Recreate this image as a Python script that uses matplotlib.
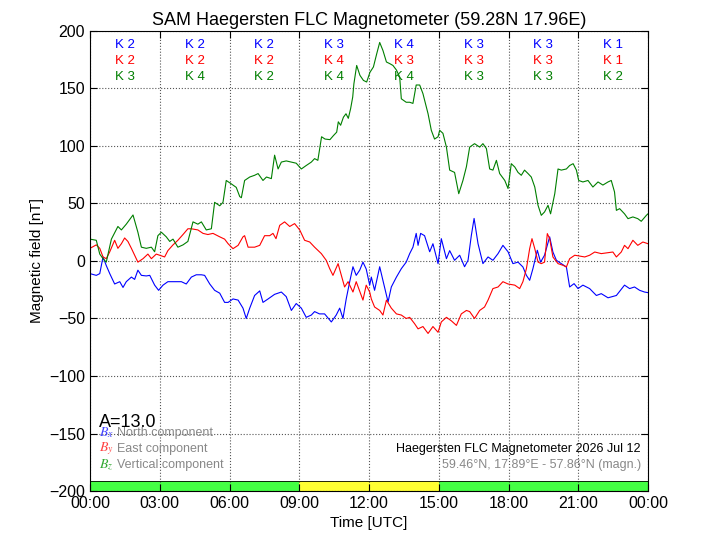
import matplotlib
matplotlib.use("Agg")
import matplotlib.pyplot as plt

plt.rcParams['font.family'] = ['Liberation Sans', 'DejaVu Sans']
plt.rcParams['mathtext.fontset'] = 'stix'

# hours since 00:00 UTC and field values in nT
bx_t = [0.0, 0.27, 0.42, 0.56, 0.7, 0.85, 1.06, 1.28, 1.42, 1.56, 1.78, 1.92,
        2.06, 2.21, 2.42, 2.57, 2.78, 2.95, 3.14, 3.35, 3.64, 3.93, 4.14, 4.36,
        4.57, 4.79, 4.93, 5.15, 5.36, 5.58, 5.79, 5.94, 6.15, 6.37, 6.58, 6.72,
        6.87, 7.08, 7.3, 7.44, 7.66, 7.94, 8.23, 8.44, 8.66, 8.87, 9.09, 9.3,
        9.52, 9.66, 9.87, 10.09, 10.38, 10.59, 10.74, 10.88, 11.02, 11.17, 11.31,
        11.45, 11.6, 11.74, 11.88, 12.03, 12.1, 12.24, 12.46, 12.6, 12.82, 12.96,
        13.18, 13.39, 13.6, 13.75, 13.89, 14.03, 14.11, 14.22, 14.39, 14.61,
        14.75, 14.97, 15.11, 15.33, 15.47, 15.68, 15.9, 16.11, 16.26, 16.4,
        16.52, 16.69, 16.9, 17.12, 17.33, 17.55, 17.76, 17.98, 18.19, 18.41,
        18.62, 18.77, 18.91, 19.05, 19.24, 19.38, 19.55, 19.77, 19.91, 20.06,
        20.27, 20.49, 20.63, 20.82, 20.99, 21.2, 21.49, 21.78, 21.99, 22.28,
        22.64, 22.99, 23.21, 23.42, 23.64, 23.85, 24.0]
bx = [-11, -12.5, -11, 3.5, -4, -11, -20, -18, -23, -18, -14, -16,
      -8, -12.5, -13, -12.5, -21, -25.5, -21, -18, -18, -18, -20, -14,
      -12, -12, -12.5, -20, -25.5, -28, -36, -36, -33, -34, -41, -50,
      -41, -30, -26, -36, -33, -29, -27, -31, -43, -37, -41, -49,
      -47, -44, -46, -46, -53, -47, -41, -50, -33, -18, -5,
      -12.5, -8, -1, -7, -21, -14, -25.5, -5, -17, -35.6, -22.6,
      -14, -6.7, -1, 6.4, 12, 24, 13.6, 24, 22, 8,
      15, -2.3, 19.4, 2, 9, 0.6, 5, -5, 0.6, 22,
      37, 15, -2.3, 3.5, 0.6, 6.4, 13.6, 8, -2.3, -1,
      -5.2, -12.5, -16.8, -6.7, 9.3, -1, 5, 21, 7.8, 0.6,
      -2.3, -5.2, -22.6, -19.7, -24, -21, -24, -30, -28.4, -32,
      -30, -21, -24, -22.6, -25.5, -27, -27.5]

by_t = [0.0, 0.27, 0.42, 0.56, 0.7, 0.85, 1.06, 1.2, 1.35, 1.49, 1.63, 1.78,
        1.92, 2.06, 2.28, 2.49, 2.64, 2.85, 2.99, 3.21, 3.35, 3.57, 3.78, 4.0,
        4.21, 4.36, 4.64, 4.86, 5.07, 5.29, 5.58, 5.79, 5.94, 6.15, 6.37, 6.58,
        6.65, 6.8, 7.08, 7.3, 7.51, 7.73, 7.87, 8.0, 8.16, 8.37, 8.59, 8.8,
        9.02, 9.23, 9.45, 9.66, 9.95, 10.16, 10.31, 10.45, 10.67, 10.81, 10.95,
        11.1, 11.31, 11.45, 11.67, 11.74, 11.88, 12.03, 12.1, 12.24, 12.46,
        12.6, 12.75, 12.96, 13.18, 13.39, 13.6, 13.75, 13.96, 14.11, 14.32,
        14.54, 14.75, 14.97, 15.11, 15.33, 15.54, 15.76, 15.97, 16.19, 16.33,
        16.54, 16.76, 16.97, 17.12, 17.33, 17.55, 17.76, 17.98, 18.27, 18.48,
        18.62, 18.77, 18.91, 19.01, 19.13, 19.27, 19.41, 19.55, 19.67, 19.77,
        19.91, 20.13, 20.35, 20.49, 20.63, 20.85, 21.06, 21.28, 21.49, 21.71,
        21.99, 22.28, 22.49, 22.64, 22.85, 22.99, 23.14, 23.35, 23.56, 23.78,
        24.0]
by = [11, 14, 11, 3.5, 2, 8, 18, 11, 15, 20, 17, 11,
      5, -1, 2, 6, 2, 6, 5, 3.5, 9, 14, 18, 23,
      28, 28, 27, 24, 23, 24, 21, 19, 15, 10.7, 13.6, 21,
      22, 12, 12, 13.6, 22, 22, 24, 19.4, 31, 34, 30, 32.5,
      27, 18, 16.5, 12, 6.4, 0.6, -6.7, -12.5, -2.3, -12.5, -22.6,
      -18, -27, -18, -30, -34, -21, -27, -33, -40, -43,
      -47, -34, -41, -46, -47, -50, -49, -54.5, -59, -57,
      -63, -57, -62, -53, -49, -52, -56, -46, -43, -44,
      -50, -43, -40, -34, -24, -22.6, -18, -20, -21, -24,
      -18, -6.7, 10.7, 19.4, 10.7, -1, -2.3, -1, 23.8, 19.4,
      3.5, -2.3, -3.8, -5.2, 2, 5, 4.3, 3.5, 5, 7.8,
      6.4, 7.2, 7.8, 3.5, 7.8, 13.6, 10.7, 18, 13.6, 16.5,
      15]

bz_t = [0.0, 0.27, 0.42, 0.56, 0.7, 0.92, 1.2, 1.35, 1.56, 1.85, 2.06, 2.21,
        2.42, 2.64, 2.78, 2.92, 3.07, 3.28, 3.43, 3.57, 3.78, 4.0, 4.21, 4.43,
        4.64, 4.79, 5.0, 5.22, 5.36, 5.58, 5.72, 5.86, 6.08, 6.29, 6.44, 6.51,
        6.65, 6.87, 7.08, 7.23, 7.44, 7.59, 7.8, 7.94, 8.09, 8.23, 8.44, 8.66,
        8.87, 9.09, 9.3, 9.52, 9.66, 9.8, 9.89, 9.96, 10.11, 10.32, 10.47,
        10.61, 10.68, 10.78, 10.9, 11.01, 11.11, 11.21, 11.3, 11.35, 11.47,
        11.61, 11.76, 11.9, 12.04, 12.19, 12.33, 12.46, 12.6, 12.75, 12.89,
        13.03, 13.18, 13.32, 13.39, 13.6, 13.75, 13.89, 14.03, 14.18, 14.32,
        14.54, 14.68, 14.82, 14.97, 15.04, 15.18, 15.33, 15.47, 15.68, 15.86,
        16.04, 16.19, 16.33, 16.54, 16.76, 16.9, 17.05, 17.19, 17.33, 17.48,
        17.62, 17.84, 17.98, 18.12, 18.27, 18.41, 18.55, 18.69, 18.84, 18.98,
        19.13, 19.27, 19.41, 19.55, 19.7, 19.81, 19.99, 20.13, 20.27, 20.49,
        20.63, 20.78, 20.92, 21.02, 21.2, 21.42, 21.63, 21.85, 22.06, 22.28,
        22.42, 22.56, 22.64, 22.78, 22.99, 23.14, 23.35, 23.56, 23.71, 23.93,
        24.0]
bz = [19, 18, 6, 2, -1, 19, 30, 27, 32, 40, 25, 12,
      11, 12, 8, 22, 25, 21, 17, 19, 12, 14, 17, 34,
      32, 34, 27, 28, 51, 48, 51, 70, 67, 64, 56, 55,
      70, 73, 74.5, 76, 70, 73, 71.6, 92, 80, 86, 87, 86,
      85, 80, 83, 86, 89, 87.5, 99, 108, 106, 105.5, 109,
      112, 121, 118, 125, 128, 124, 132.5, 142.6, 154, 170,
      161.4, 157, 155.6, 164, 168.7, 180, 190, 183, 173, 171.6,
      170, 166, 160, 141, 138, 138, 137, 153, 153, 145.5,
      128, 113.6, 106, 108, 113.6, 111, 99, 79, 77, 58.5,
      70, 82, 99, 102, 99, 102, 97.7, 80, 79, 87.5,
      76, 70, 63, 84.6, 81.7, 77, 74.5, 79, 76, 73,
      64.3, 48.4, 39.7, 42.6, 48.4, 41, 58.5, 80, 79, 80,
      83, 84.6, 79, 70, 68.7, 70, 64.3, 68.7, 66, 68.7,
      70, 60, 44, 45.5, 41, 36.8, 38.3, 36.8, 34.5, 39.7,
      41]

# 3-hourly K indices per component
k_x = ['K 2', 'K 2', 'K 2', 'K 3', 'K 4', 'K 3', 'K 3', 'K 1']
k_y = ['K 2', 'K 2', 'K 2', 'K 4', 'K 3', 'K 3', 'K 3', 'K 1']
k_z = ['K 3', 'K 4', 'K 2', 'K 4', 'K 4', 'K 3', 'K 3', 'K 2']

# activity band at the bottom
band_edges = [0, 9, 15, 24]
band_colors = ['#44ff44', '#ffff33', '#44ff44']

tick_hours = [0, 3, 6, 9, 12, 15, 18, 21, 24]
tick_labels = ['00:00', '03:00', '06:00', '09:00', '12:00', '15:00',
               '18:00', '21:00', '00:00']

fig = plt.figure(figsize=(7.2, 5.4), dpi=100)
ax = fig.add_axes([0.125, 0.0907, 0.775, 0.852])

ax.plot(bx_t, bx, color='#0000ff', lw=0.8)
ax.plot(by_t, by, color='#ff0000', lw=0.8)
ax.plot(bz_t, bz, color='#007f00', lw=0.8)

for i in range(len(band_colors)):
    ax.axvspan(band_edges[i], band_edges[i + 1], ymin=0, ymax=10 / 460.,
               color=band_colors[i], lw=0, zorder=1)
ax.axhline(-200 + 10 / 460. * 400, color='k', lw=0.6, zorder=2)

for i in range(8):
    xc = 1.5 + 3 * i
    ax.text(xc, 0.97, k_x[i], color='#0000ff', fontsize=9.5, ha='center',
            va='center', transform=ax.get_xaxis_transform())
    ax.text(xc, 0.935, k_y[i], color='#ff0000', fontsize=9.5, ha='center',
            va='center', transform=ax.get_xaxis_transform())
    ax.text(xc, 0.90, k_z[i], color='#007f00', fontsize=9.5, ha='center',
            va='center', transform=ax.get_xaxis_transform())

ax.text(0.016, 0.14, 'A=13.0', fontsize=13, transform=ax.transAxes)

leg = [('$B_x$', '#4444ff', 'North component'),
       ('$B_y$', '#ff4444', 'East component'),
       ('$B_z$', '#33aa33', 'Vertical component')]
for j, (sym, col, name) in enumerate(leg):
    yy = 0.127 - j * 0.035
    ax.text(0.016, yy, sym, color=col, fontsize=10, transform=ax.transAxes,
            va='center')
    ax.text(0.049, yy, name, color='#888888', fontsize=9,
            transform=ax.transAxes, va='center')

ax.text(0.987, 0.092, 'Haegersten FLC Magnetometer 2026 Jul 12', fontsize=9,
        ha='right', va='center', transform=ax.transAxes)
ax.text(0.987, 0.057, '59.46\u00b0N, 17.89\u00b0E - 57.86\u00b0N (magn.)',
        fontsize=9, color='#888888', ha='right', va='center',
        transform=ax.transAxes)

ax.set_xlim(0, 24)
ax.set_ylim(-200, 200)
ax.set_xticks(tick_hours)
ax.set_xticklabels(tick_labels)
ax.set_yticks(range(-200, 201, 50))
ax.tick_params(direction='in', top=True, right=True, labelsize=11.5,
               length=5)
ax.grid(True, linestyle=':', color='#555555', lw=0.8)
ax.set_title('SAM Haegersten FLC Magnetometer (59.28N 17.96E)', fontsize=13,
             pad=4)
ax.set_xlabel('Time [UTC]', fontsize=11)
ax.set_ylabel('Magnetic field [nT]', fontsize=11)

fig.savefig('out.png', dpi=100)
